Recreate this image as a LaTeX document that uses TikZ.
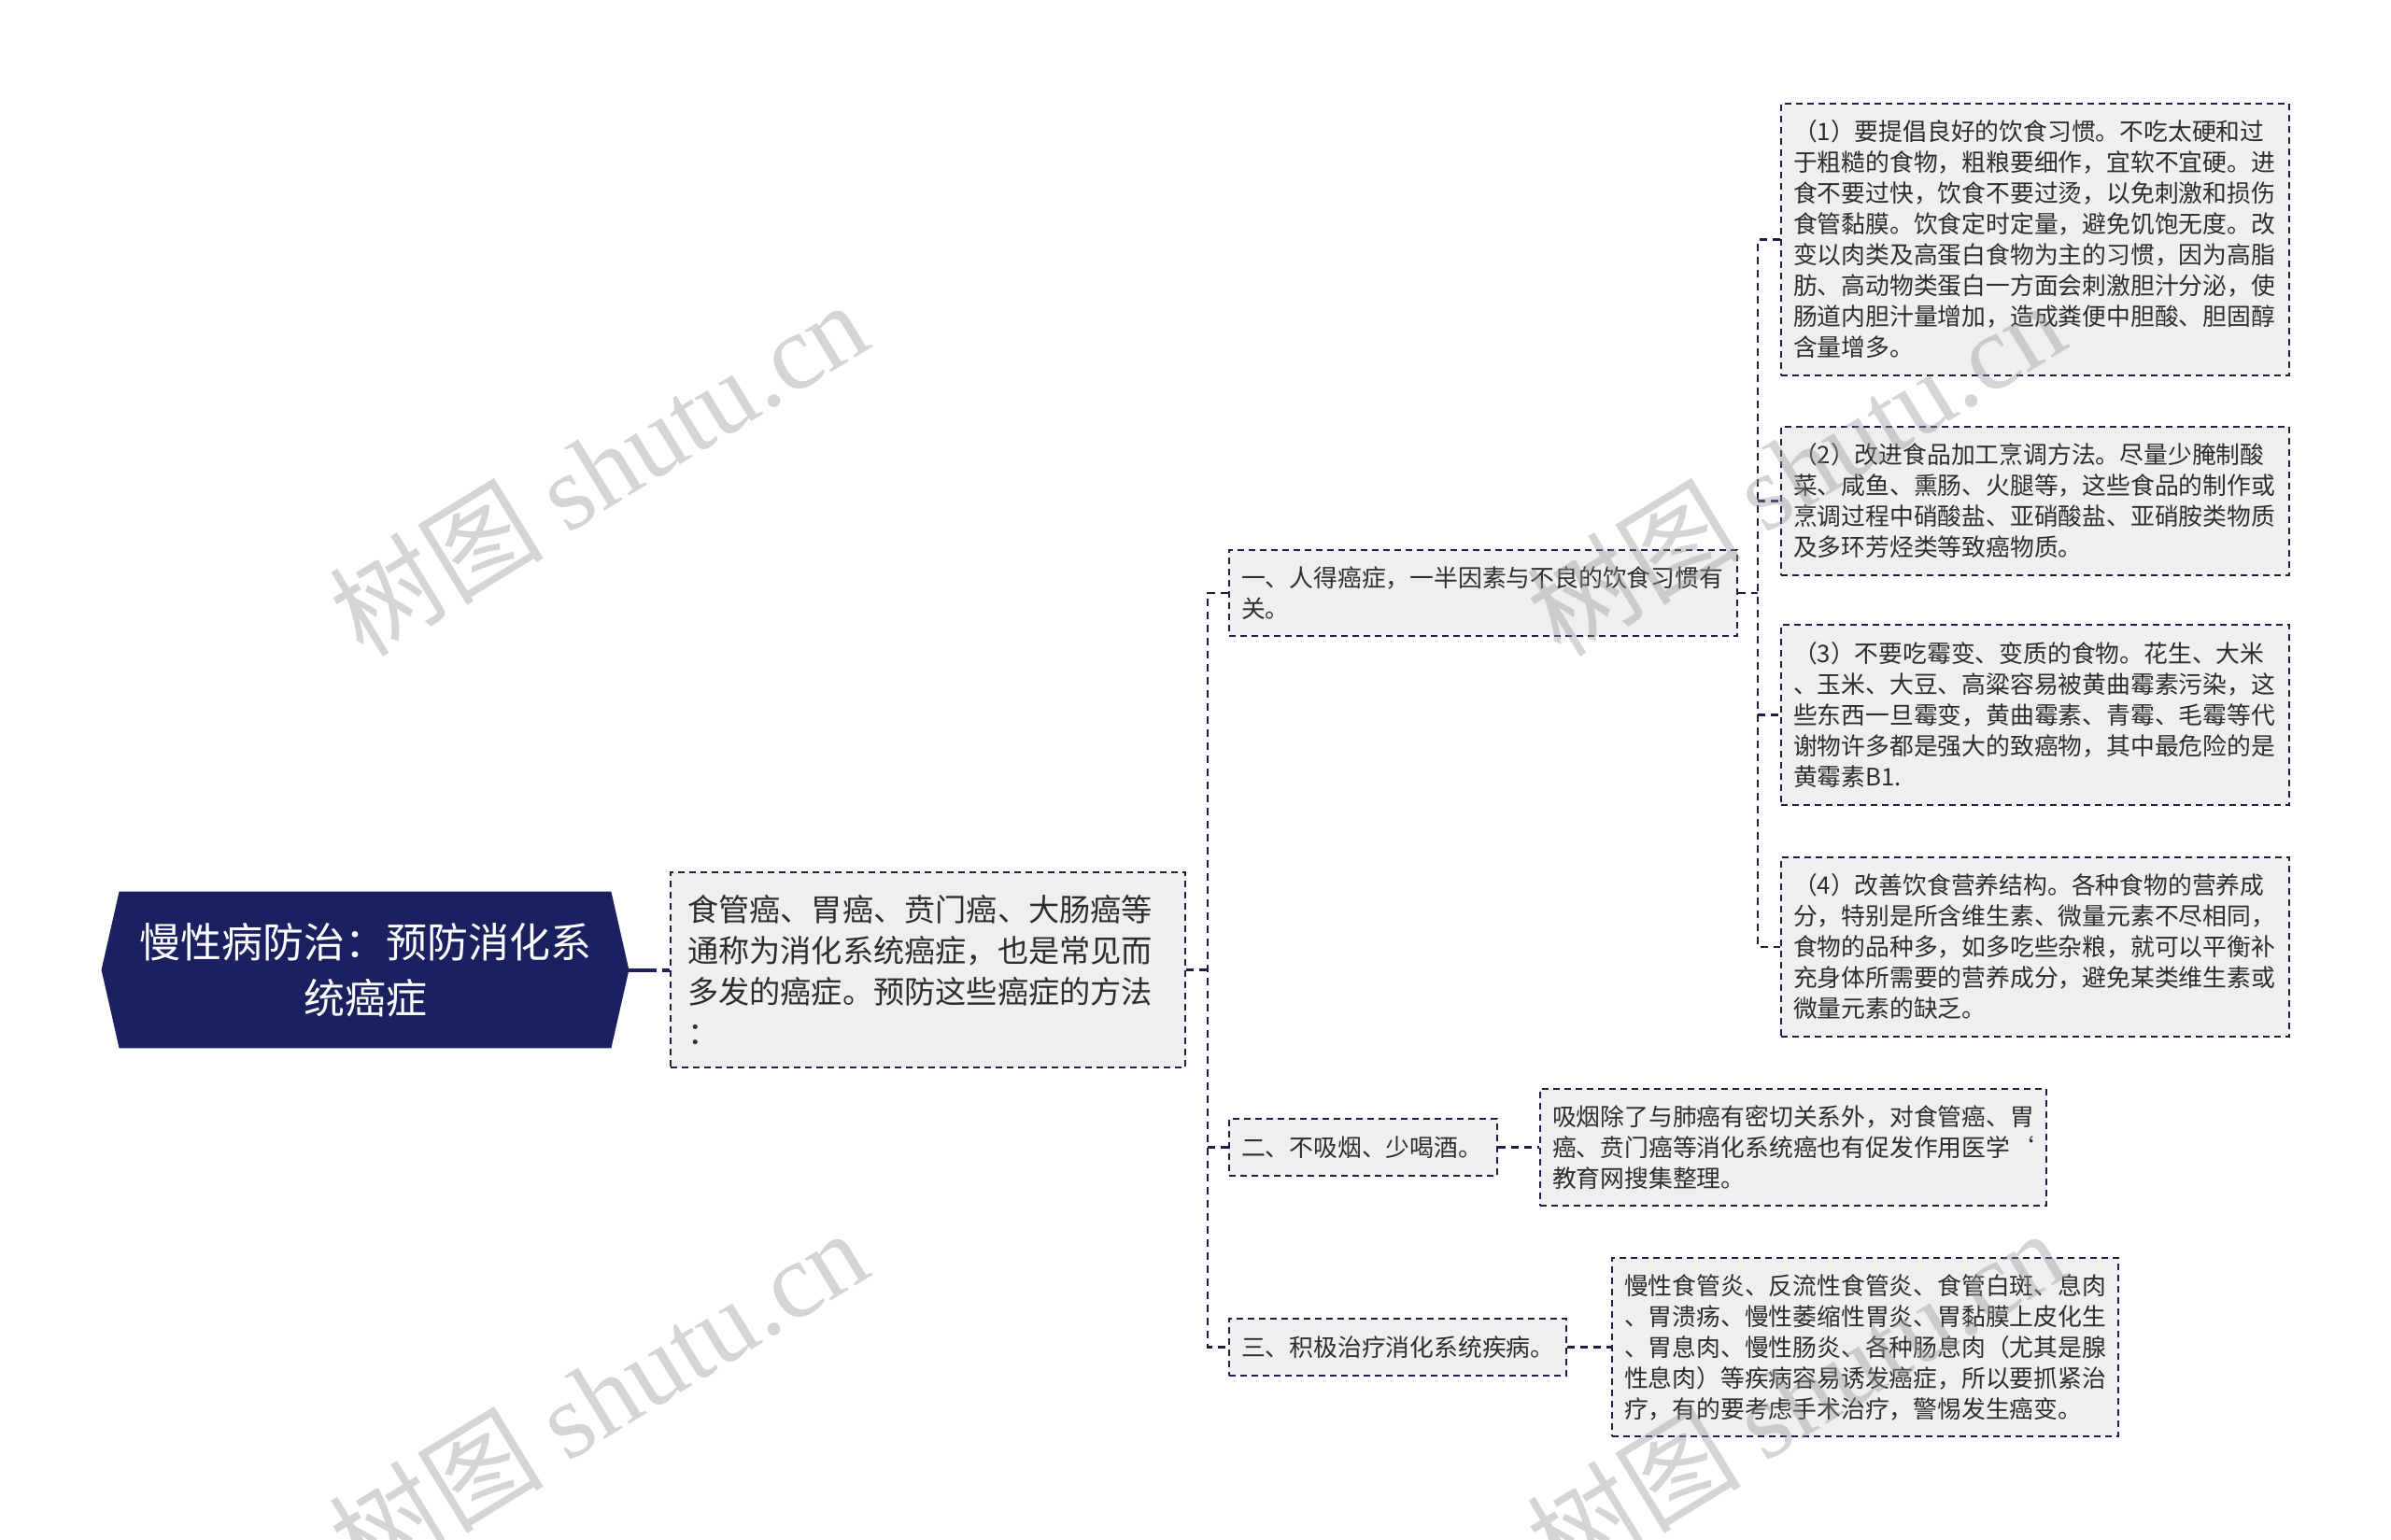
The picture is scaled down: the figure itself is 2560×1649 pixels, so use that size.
\documentclass[tikz,border=0pt]{standalone}
\usepackage{fontspec}
\setmainfont{Noto Sans CJK SC}
\newfontfamily\wmserif{Liberation Serif}
\usetikzlibrary{backgrounds,calc}
\definecolor{navy}{RGB}{27,32,96}
\definecolor{bordnavy}{RGB}{28,32,72}
\definecolor{boxfill}{RGB}{239,239,239}
\definecolor{txt}{RGB}{45,45,45}
\definecolor{wm}{RGB}{150,150,150}
\tikzset{
  rootbox/.style={inner sep=0pt, minimum width=263pt, minimum height=83.5pt, text=white, align=center,
    font=\fontsize{22}{30}\selectfont},
  dbox/.style={draw=bordnavy, fill=boxfill, line width=1.1pt, dash pattern=on 3.5pt off 2.5pt,
    text=txt, align=left, inner ysep=0pt},
  descbox/.style={dbox, inner xsep=9pt, text width=257.5pt, minimum width=275.5pt, minimum height=104.5pt,
    font=\fontsize{16.6}{22}\selectfont},
  smallbox/.style={dbox, inner xsep=6.5pt, font=\fontsize{12.9}{16.5}\selectfont},
  wide/.style={smallbox, text width=259pt, minimum width=272pt},
  conn/.style={draw=bordnavy, line width=1.1pt, dash pattern=on 4pt off 3pt},
  wmark/.style={text=wm, opacity=0.4, rotate=31.5, anchor=base west, inner sep=0pt,
    font=\fontsize{57.5}{57.5}\selectfont},
}
\begin{document}
\begin{tikzpicture}[x=0.5pt,y=-0.5pt]
\useasboundingbox (0,0) rectangle (2560,1649);
\clip (0,0) rectangle (2560,1649);

% root
\node[rootbox] (root) at (391,1038.5) {慢性病防治：预防消化系\\统癌症};
\begin{scope}[on background layer]
\fill[white] (0,0) rectangle (2560,1649);
\fill[navy] (root.north west) -- (root.north east) -- ($(root.east)+(19,0)$) -- (root.south east)
  -- (root.south west) -- ($(root.west)+(-19,0)$) -- cycle;
\end{scope}
\coordinate (rtip) at ($(root.east)+(19,0)$);

% description
\node[descbox] (desc) at (993.5,1038.5) {食管癌、胃癌、贲门癌、大肠癌等\\通称为消化系统癌症，也是常见而\\多发的癌症。预防这些癌症的方法\\：};

% branches
\node[wide, minimum height=46pt] (b1) at (1588,635) {一、人得癌症，一半因素与不良的饮食习惯有\\关。};
\node[smallbox, text width=130.5pt, minimum width=143.5pt, minimum height=30.5pt] (b2) at (1459.5,1228.5) {二、不吸烟、少喝酒。};
\node[smallbox, text width=167.5pt, minimum width=180.5pt, minimum height=30.5pt] (b3) at (1496.5,1442.5) {三、积极治疗消化系统疾病。};

% leaves
\node[wide, minimum height=145.5pt] (l1) at (2179,256.5) {（1）要提倡良好的饮食习惯。不吃太硬和过\\于粗糙的食物，粗粮要细作，宜软不宜硬。进\\食不要过快，饮食不要过烫，以免刺激和损伤\\食管黏膜。饮食定时定量，避免饥饱无度。改\\变以肉类及高蛋白食物为主的习惯，因为高脂\\肪、高动物类蛋白一方面会刺激胆汁分泌，使\\肠道内胆汁量增加，造成粪便中胆酸、胆固醇\\含量增多。};
\node[wide, minimum height=79.5pt] (l2) at (2179,536.5) {（2）改进食品加工烹调方法。尽量少腌制酸\\菜、咸鱼、熏肠、火腿等，这些食品的制作或\\烹调过程中硝酸盐、亚硝酸盐、亚硝胺类物质\\及多环芳烃类等致癌物质。};
\node[wide, minimum height=96.5pt] (l3) at (2179,765.5) {（3）不要吃霉变、变质的食物。花生、大米\\、玉米、大豆、高粱容易被黄曲霉素污染，这\\些东西一旦霉变，黄曲霉素、青霉、毛霉等代\\谢物许多都是强大的致癌物，其中最危险的是\\黄霉素B1.};
\node[wide, minimum height=96pt] (l4) at (2179,1014) {（4）改善饮食营养结构。各种食物的营养成\\分，特别是所含维生素、微量元素不尽相同，\\食物的品种多，如多吃些杂粮，就可以平衡补\\充身体所需要的营养成分，避免某类维生素或\\微量元素的缺乏。};
\node[smallbox, text width=258pt, minimum width=271pt, minimum height=62.5pt] (l5) at (1920,1228.5) {吸烟除了与肺癌有密切关系外，对食管癌、胃\\癌、贲门癌等消化系统癌也有促发作用医学`\\教育网搜集整理。};
\node[smallbox, text width=258pt, minimum width=271pt, minimum height=95.5pt] (l6) at (1997,1442.5) {慢性食管炎、反流性食管炎、食管白斑、息肉\\、胃溃疡、慢性萎缩性胃炎、胃黏膜上皮化生\\、胃息肉、慢性肠炎、各种肠息肉（尤其是腺\\性息肉）等疾病容易诱发癌症，所以要抓紧治\\疗，有的要考虑手术治疗，警惕发生癌变。};

% connectors
\draw[draw=navy, line width=2pt, dash pattern=on 15pt off 3pt] (rtip) -- (desc.west);
\coordinate (t1) at (1293,1038.5);
\draw[conn] (desc.east) -- (t1);
\draw[conn] (b1.west) -| (t1) |- (b3.west);
\draw[conn] (t1 |- b2.west) -- (b2.west);
\coordinate (t2) at (1882,635);
\draw[conn] (b1.east) -- (t2);
\draw[conn] (l1.west) -| (t2) |- (l4.west);
\draw[conn] (t2 |- l2.west) -- (l2.west);
\draw[conn] (t2 |- l3.west) -- (l3.west);
\draw[conn] (b2.east) -- (l5.west);
\draw[conn] (b3.east) -- (l6.west);

% watermarks
\node[wmark] (w1) at (389,706) {树图 {\wmserif shutu.cn}};
\node[wmark] (w2) at (389,1700) {树图 {\wmserif shutu.cn}};
\node[wmark] (w3) at (1671,706) {树图 {\wmserif shutu.cn}};
\node[wmark] (w4) at (1671,1700) {树图 {\wmserif shutu.cn}};
\end{tikzpicture}
\end{document}
